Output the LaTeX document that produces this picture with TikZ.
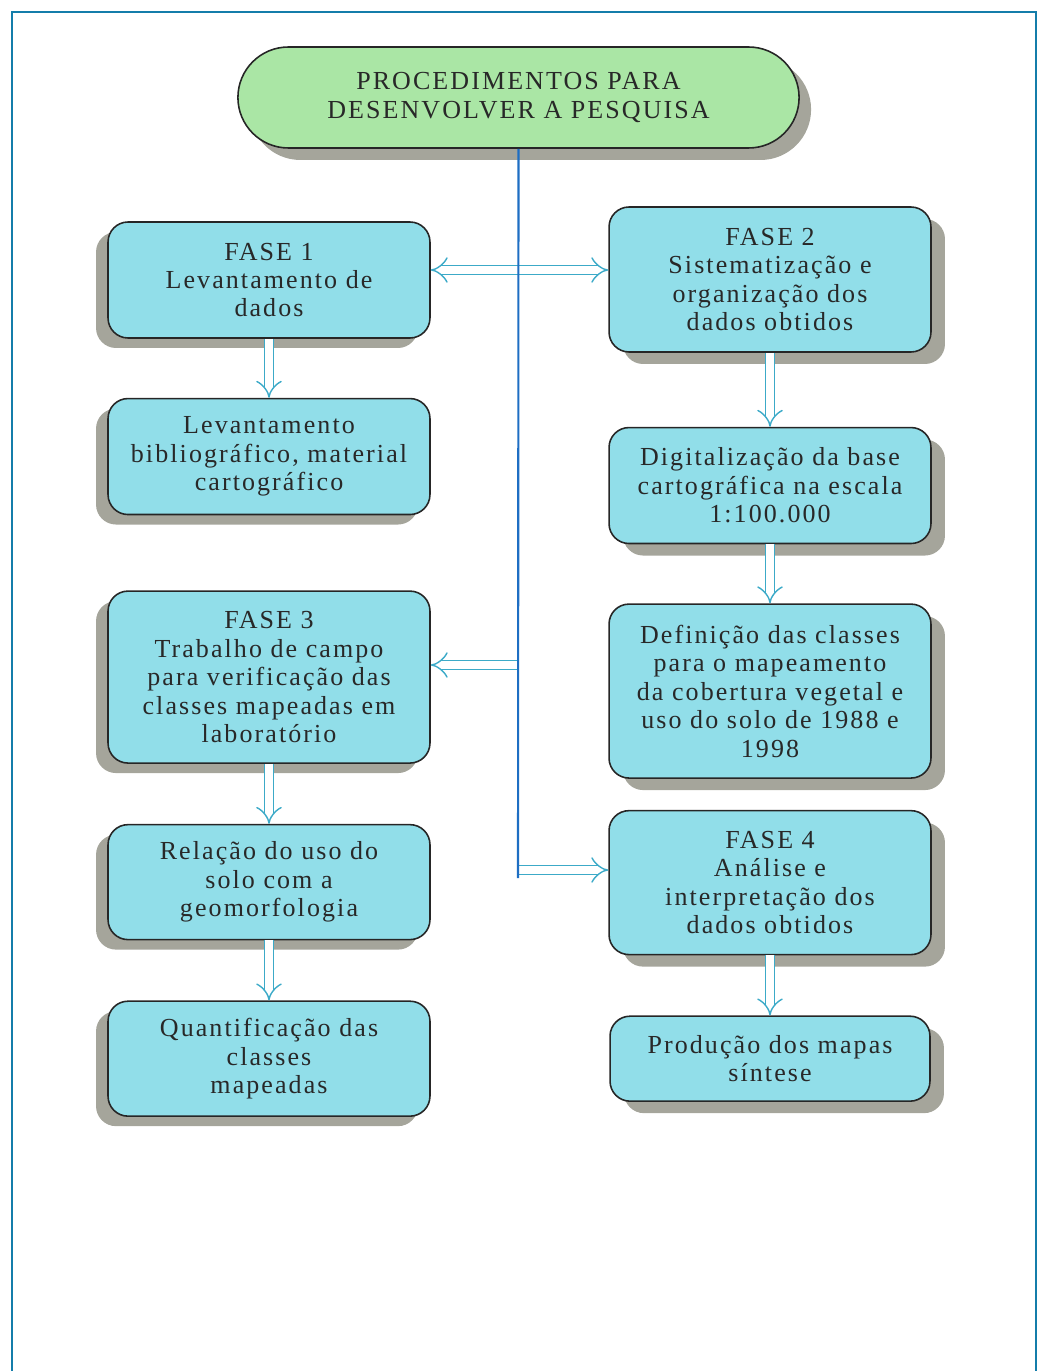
\documentclass[tikz,border=0pt]{standalone}
\usepackage{fontspec}
\setmainfont{Liberation Serif}[LetterSpace=8]
\usetikzlibrary{arrows.meta,positioning,shapes.misc,shadows}

\definecolor{caixa}{RGB}{145,222,233}
\definecolor{verde}{RGB}{170,230,165}
\definecolor{sombra}{RGB}{165,165,155}
\definecolor{texto}{RGB}{40,40,40}
\definecolor{corseta}{RGB}{60,170,200}
\definecolor{coreixo}{RGB}{30,110,195}
\definecolor{cormoldura}{RGB}{20,125,170}

\begin{document}
\begin{tikzpicture}[
  x=0.02cm, y=0.02cm,
  fase/.style={draw=black!85, line width=0.9pt, rounded corners=0.4cm, fill=caixa,
               minimum width=6.44cm, minimum height=2.32cm, align=center,
               text=texto, font=\fontsize{14.8}{16.2}\selectfont},
  sombraesq/.style={drop shadow={shadow xshift=-0.24cm, shadow yshift=-0.2cm,
                    fill=sombra, opacity=1}},
  sombradir/.style={drop shadow={shadow xshift=0.28cm, shadow yshift=-0.24cm,
                    fill=sombra, opacity=1}},
  ponta/.tip={Implies[length=8pt, width=14pt]},
  seta/.style={draw=corseta, double=white, double distance=4.4pt, line width=0.8pt, -ponta},
  eixo/.style={draw=coreixo, line width=1.2pt},
  moldura/.style={draw=cormoldura, line width=1.6pt}
]
\useasboundingbox (0,0) rectangle (1038,-1371);
\draw[moldura] (12,-1371) |- (1036,-12) -- (1036,-1371);

\node[rounded rectangle, draw=black!85, line width=0.9pt, fill=verde, text=texto,
      minimum width=11.46cm, minimum height=2.02cm, align=center,
      font=\fontsize{14.8}{16.2}\selectfont,
      drop shadow={shadow xshift=0.24cm, shadow yshift=-0.24cm, fill=sombra, opacity=1}]
      (titulo) at (518.5,-97.5) {PROCEDIMENTOS PARA\\DESENVOLVER A PESQUISA};

\node[fase, sombraesq] (fase1) at (269,-280) {FASE 1\\Levantamento de\\dados};
\node[fase, sombraesq, below=1.18cm of fase1] (levbib) {Levantamento\\bibliográfico, material\\cartográfico};
\node[fase, sombraesq, minimum height=3.44cm, below=1.5cm of levbib] (fase3) {FASE 3\\Trabalho de campo\\para verificação das\\classes mapeadas em\\laboratório};
\node[fase, sombraesq, minimum height=2.3cm, below=1.2cm of fase3] (relacao) {Relação do uso do\\solo com a\\geomorfologia};
\node[fase, sombraesq, minimum height=2.3cm, below=1.2cm of relacao] (quant) {Quantificação das\\classes\\mapeadas};

\node[fase, sombradir, minimum height=2.9cm] (fase2) at (770,-279.5) {FASE 2\\Sistematização e\\organização dos\\dados obtidos};
\node[fase, sombradir, below=1.48cm of fase2] (digit) {Digitalização da base\\cartográfica na escala\\1:100.000};
\node[fase, sombradir, minimum height=3.48cm, below=1.18cm of digit] (defin) {Definição das classes\\para o mapeamento\\da cobertura vegetal e\\uso do solo de 1988 e\\1998};
\node[fase, sombradir, minimum height=2.88cm, below=0.62cm of defin] (fase4) {FASE 4\\Análise e\\interpretação dos\\dados obtidos};
\node[fase, sombradir, minimum width=6.4cm, minimum height=1.7cm, below=1.2cm of fase4] (producao) {Produção dos mapas\\síntese};

\coordinate (s3) at (518,-665);
\coordinate (s4) at (518,-870);
\coordinate (fim) at (518,-878);

\draw[seta, ponta-ponta] ([yshift=0.2cm]fase1.east) -- ([yshift=0.2cm]fase1.east -| fase2.west);
\draw[seta] (s3) -- (s3 -| fase3.east);
\draw[seta] (s4) -- (s4 -| fase4.west);
\draw[eixo] (titulo.south) -- (fim);

\draw[seta] (fase1) -- (levbib);
\draw[seta] (fase3) -- (relacao);
\draw[seta] (relacao) -- (quant);
\draw[seta] (fase2) -- (digit);
\draw[seta] (digit) -- (defin);
\draw[seta] (fase4) -- (producao);

\end{tikzpicture}
\end{document}
